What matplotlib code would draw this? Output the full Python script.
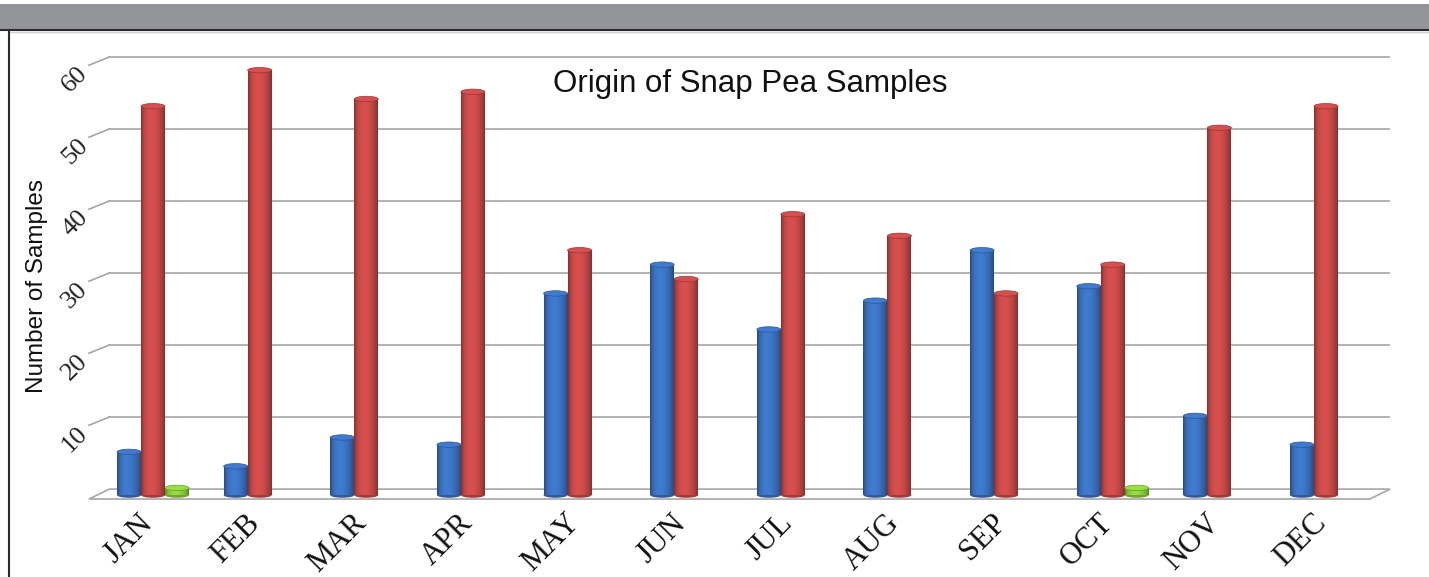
import matplotlib
matplotlib.use("Agg")
import matplotlib.pyplot as plt
from matplotlib.patches import Rectangle, Ellipse, Polygon
from matplotlib.colors import to_rgb
import numpy as np

# ---- data ----
months = ['JAN', 'FEB', 'MAR', 'APR', 'MAY', 'JUN', 'JUL', 'AUG', 'SEP', 'OCT', 'NOV', 'DEC']
blue_vals = [6, 4, 8, 7, 28, 32, 23, 27, 34, 29, 11, 7]
red_vals = [54, 59, 55, 56, 34, 30, 39, 36, 28, 32, 51, 54]
green_vals = [1, 0, 0, 0, 0, 0, 0, 0, 0, 1, 0, 0]
y_ticks = [10, 20, 30, 40, 50, 60]

colors = {'blue': '#3b72c0', 'red': '#c84a48', 'green': '#8ccf3c'}

fig = plt.figure(figsize=(14.29, 5.77), dpi=100)

# ---- frame decorations (figure coords) ----
bg = fig.add_axes([0, 0, 1, 1])
bg.set_xlim(0, 1429)
bg.set_ylim(577, 0)
bg.axis('off')
bg.add_patch(Rectangle((0, 4), 1429, 25, facecolor='#949598', edgecolor='none'))
bg.plot([0, 1429], [29.5, 29.5], color='#2b2b2b', lw=1.5)
bg.plot([10, 1429], [31.5, 31.5], color='#d0d0d0', lw=1)
bg.plot([9.5, 9.5], [30, 577], color='#2b2b2b', lw=1.5)

# ---- main axes ----
ax = fig.add_axes([0.0623, 0.132, 0.9104, 0.7838])
ax.set_xlim(-0.6, 11.6)
ax.set_ylim(-0.8, 62)
ax.axis('off')

x = np.arange(len(months))
bw = 0.225
depth_dx, depth_dy = 0.19, 0.83

# back wall grid lines + diagonal tick stubs
for v in y_ticks:
    ax.plot([-0.41, 11.6], [v + depth_dy, v + depth_dy], color='#a6a6a6', lw=1.2, zorder=1)
    ax.plot([-0.60, -0.41], [v - 0.3, v + depth_dy], color='#a6a6a6', lw=1.2, zorder=1, clip_on=False)
    ax.text(-0.73, v - 2.3, str(v), rotation=45, ha='center', va='center',
            fontsize=19, family='Liberation Serif', color='#222222')

# floor
floor = Polygon([[-0.60, -0.55], [11.41, -0.55], [11.6, depth_dy], [-0.41, depth_dy]],
                closed=True, facecolor='white', edgecolor='#a6a6a6', lw=1.2, zorder=1,
                clip_on=False)
ax.add_patch(floor)


def shade_cmap(base):
    r, g, b = to_rgb(base)
    t = np.linspace(0, 1, 64)
    f = 0.62 + 0.55 * np.sin(np.pi * t) ** 0.6 * (1 - 0.35 * t)
    img = np.stack([np.clip(r * f, 0, 1), np.clip(g * f, 0, 1), np.clip(b * f, 0, 1)], axis=-1)
    return img[np.newaxis, :, :]


def cylinders(xs, vals, base, z):
    img = shade_cmap(base)
    bars = ax.bar(xs, vals, width=bw, color=base, edgecolor='none', zorder=z)
    cap_h = 0.75
    for rect, v in zip(bars, vals):
        if v <= 0:
            rect.set_visible(False)
            continue
        x0 = rect.get_x()
        w = rect.get_width()
        xc = x0 + w / 2
        # bottom rounding
        bot = Ellipse((xc, 0), w, cap_h, facecolor=np.array(to_rgb(base)) * 0.8,
                      edgecolor='none', zorder=z)
        ax.add_patch(bot)
        im = ax.imshow(img, extent=[x0, x0 + w, 0, v], aspect='auto', zorder=z + 0.1,
                       interpolation='bilinear')
        im.set_clip_path(rect)
        cap = Ellipse((xc, v), w, cap_h, facecolor=np.clip(np.array(to_rgb(base)) * 1.08, 0, 1),
                      edgecolor=np.array(to_rgb(base)) * 0.75, lw=0.5, zorder=z + 0.2)
        ax.add_patch(cap)


cylinders(x - bw, blue_vals, colors['blue'], 3)
cylinders(x, red_vals, colors['red'], 4)
cylinders(x + bw, green_vals, colors['green'], 5)

ax.set_xlim(-0.6, 11.6)
ax.set_ylim(-0.8, 62)

# month labels
for i, m in enumerate(months):
    ax.text(i - 0.04, -3.3, m, rotation=45, rotation_mode='anchor', ha='right', va='center',
            fontsize=22, family='Liberation Serif', color='#111111', clip_on=False)

fig.text(0.525, 0.855, 'Origin of Snap Pea Samples', ha='center', va='center',
         fontsize=22.5, family='Liberation Sans', color='#111111')
fig.text(0.026, 0.504, 'Number of Samples', ha='center', va='center', rotation=90,
         fontsize=17.5, family='Liberation Sans', color='#111111')

fig.savefig('out.png', dpi=100)
